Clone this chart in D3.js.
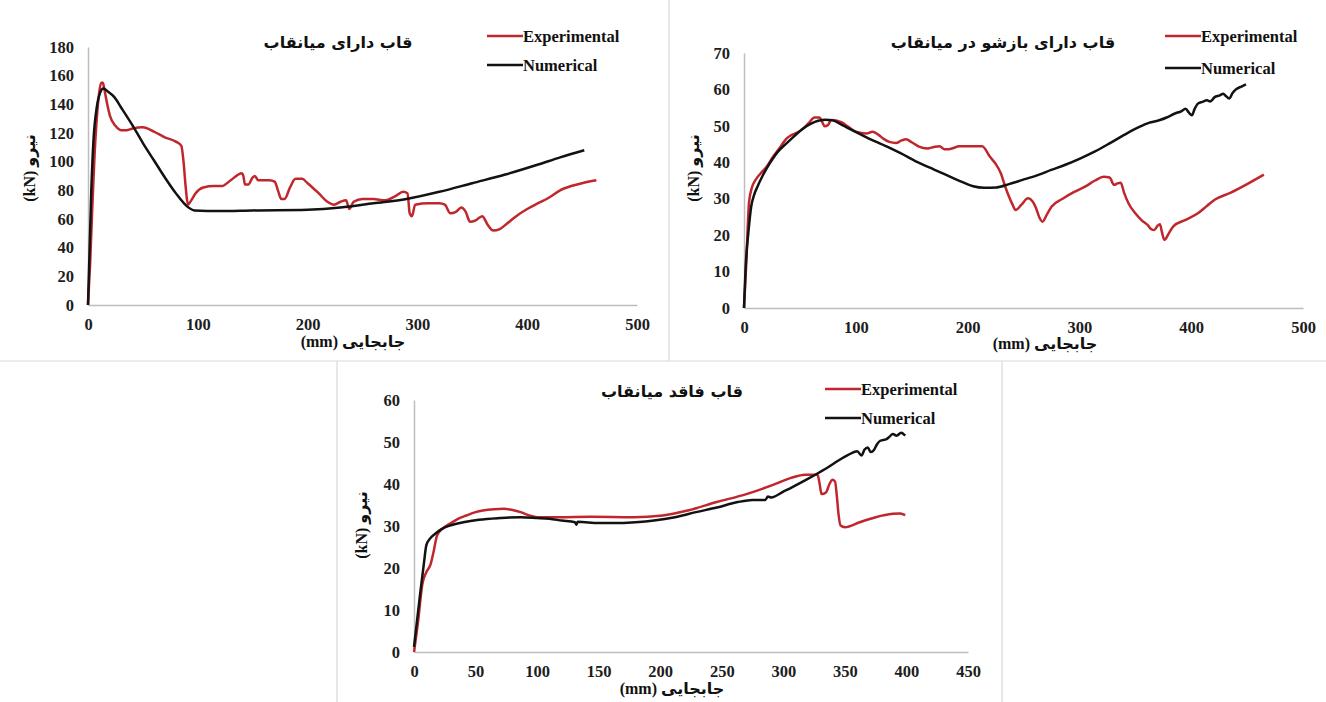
<!DOCTYPE html>
<html>
<head>
<meta charset="utf-8">
<script src="https://cdn.jsdelivr.net/npm/d3@7"></script>
<style>
  body { margin: 0; background: #fff; }
  svg { display: block; }
</style>
</head>
<body>
<div id="chart"></div>
<script>
// ---- data ----
const titles = ["قاب دارای میانقاب", "قاب دارای بازشو در میانقاب", "قاب فاقد میانقاب"];
const seriesNames = ["Experimental", "Numerical"];
const xLabel = "(mm) جابجایی";
const yLabel = "(kN) نیرو";

const xTicksTop = [0, 100, 200, 300, 400, 500];
const xTicksBottom = [0, 50, 100, 150, 200, 250, 300, 350, 400, 450];
const yTicksInfilled = [0, 20, 40, 60, 80, 100, 120, 140, 160, 180];
const yTicksOpening = [0, 10, 20, 30, 40, 50, 60, 70];
const yTicksBare = [0, 10, 20, 30, 40, 50, 60];

// frame with infill
const expInfilled = [[0,0],[2,30],[4,70],[6,105],[8,130],[10,147],[12,155],[13.5,155],[15,150],[17,142],[20,132],[25,125],[30,122],[35,122],[40,123],[50,124],[60,121],[70,117],[80,114],[85,111],[87,100],[89,82],[91,70],[94,73],[98,78],[105,82],[115,83],[122,83],[130,87],[140,92],[141.5,90],[143,84],[146,84],[150,89],[152,90],[155,87],[165,87],[170,86],[173,80],[176,74],[179,74],[184,82],[189,88],[195,88],[200,85],[210,78],[218,72],[224,70],[230,72],[235,73],[238,67],[242,72],[250,74],[260,74],[270,73],[280,76],[287,79],[291,78],[293,64],[295,62],[298,70],[310,71],[320,71],[325,70],[330,64],[335,65],[340,68],[344,65],[348,58],[353,59],[359,62],[364,56],[369,52],[375,53],[382,57],[390,62],[400,67],[410,71],[420,75],[430,80],[440,83],[450,85],[463,87]];
const numInfilled = [[0,0],[3,80],[5,115],[8,138],[11,148],[14,151],[18,149],[24,145],[30,138],[40,126],[50,113],[60,101],[70,89],[80,78],[90,69],[97,66],[120,65.5],[150,66],[200,66.5],[230,68],[260,71],[290,74],[320,79],[350,85],[380,91],[410,98],[430,103],[452,108]];

// frame with opening in infill
const expOpening = [[0,0],[2,12],[4.5,29],[7,33],[10,35],[15,37],[19.5,38.5],[26,41.5],[32.7,44.3],[38,46.5],[42,47.4],[48,48.2],[53,49.3],[58,50.8],[63,52.3],[67.6,52.3],[70,51],[72,49.9],[75,50.2],[78,51.6],[87,51],[93,49.8],[100,48.4],[109.6,47.9],[115,48.4],[120,47.6],[124.6,46.5],[130,45.6],[135.9,45.3],[141,46],[145,46.3],[150,45.5],[156.5,44.3],[164,43.8],[170,44.2],[175,44.4],[179,43.6],[183,43.6],[188,44],[192,44.4],[200,44.4],[213,44.4],[220,41.5],[225,39.6],[229.7,37],[234,33],[237,30.6],[240,28.5],[243,26.9],[248,28.3],[254,30.1],[258,29.3],[261,27.6],[264,25],[267,23.7],[271,25.7],[275,27.8],[285,30],[295,31.8],[305,33.3],[314,35],[321.7,36],[327,35.8],[331,33.8],[334,34.2],[337,34.4],[340,31.6],[344,28.7],[350,26],[356,24],[361,22.8],[364,21.7],[367,21.4],[370,22.6],[372,23],[374,20.6],[376,18.7],[380,20.5],[384,22.4],[395,24.2],[406,26],[414,28],[421,29.7],[435,31.6],[450,34],[465,36.6]];
const numOpening = [[0,0],[1.5,11.4],[4,21],[6.4,27.8],[9,31],[12,33.3],[17,36.5],[23,39.7],[30,42.8],[38,45.2],[45,47.2],[53,49.3],[60,50.6],[66.4,51.4],[73,51.7],[79.6,51.5],[88,50.2],[98,48.6],[110,46.8],[128,44.3],[140,42.5],[154.7,40.1],[170,38],[184.7,36],[195,34.6],[205,33.4],[214.7,33],[226,33.1],[237,34],[248.5,35.1],[262,36.4],[274.8,37.9],[288,39.4],[301,41.1],[314,43],[327,45.2],[340,47.5],[353.6,49.7],[362,50.8],[372,51.6],[378,52.3],[385.5,53.4],[391,54],[395,54.7],[398,53.6],[400.6,52.9],[403,54.6],[406,56.1],[410,56.6],[414,57],[417,56.7],[421,57.9],[425,58.3],[428.7,58.8],[431,58.2],[434,57.5],[437,59],[440,60],[445,60.8],[449,61.4]];

// bare frame
const expBare = [[0,0],[3.4,7.5],[6.8,16.2],[10,19],[13.6,21],[16,24],[18.7,27.7],[23,29.3],[28.9,30.5],[35,31.6],[42.5,32.5],[50,33.3],[56,33.7],[65,34],[73,34.1],[80,33.8],[86.6,33.3],[93,32.6],[100,32.1],[117,32.1],[144,32.2],[178,32.1],[202,32.5],[222.5,33.7],[246,35.7],[270,37.6],[290,39.6],[305.7,41.4],[317.6,42.2],[327.8,42.2],[329.5,40],[331,37.6],[334.6,38],[337.5,40],[339.7,41],[342,40.6],[343.5,37],[344.8,32.9],[346.5,30.1],[350,29.7],[362,30.9],[375,32.1],[389,32.9],[395,33],[399,32.6]];
const numBare = [[0,1.2],[5,13.9],[8,21],[10,25.4],[13,27],[17,28.1],[22,29.2],[29,30.1],[40,30.9],[52.7,31.5],[70,31.9],[86.6,32.1],[100,31.9],[110,31.7],[120,31.3],[130.8,30.9],[131.8,30.3],[133,31],[150,30.7],[161,30.7],[180,30.9],[195,31.3],[212,32.1],[229,33.3],[246,34.4],[263,35.7],[275,36.2],[285.3,36.2],[287.5,37],[290,36.8],[300,38.2],[307,39.2],[318,40.9],[329.5,42.8],[337,44.1],[344.8,45.6],[352,46.8],[360,47.8],[363.5,46.8],[366,48.2],[368.5,48.7],[371,47.6],[373.6,48.1],[376,49.4],[378.7,50.3],[383.8,50.7],[386,51.2],[389,51.9],[392,51.5],[395.7,52.2],[399,51.5]];

// ---- drawing ----
const W = 1326, H = 702;
const RED = "#c0272d", BLACK = "#121212";
const TICKFONT = "'Liberation Serif', 'Times New Roman', serif";
const ARFONT = "'DejaVu Sans', 'Noto Sans', sans-serif";

const svg = d3.select("#chart").append("svg").attr("width", W).attr("height", H);

// panel separators
const sep = svg.append("g").attr("stroke", "#d9d9d9").attr("stroke-width", 1.2);
sep.append("line").attr("x1", 669).attr("x2", 669).attr("y1", 0).attr("y2", 361);
sep.append("line").attr("x1", 0).attr("x2", W).attr("y1", 361).attr("y2", 361);
sep.append("line").attr("x1", 337).attr("x2", 337).attr("y1", 361).attr("y2", H);
sep.append("line").attr("x1", 1002).attr("x2", 1002).attr("y1", 361).attr("y2", H);

const panels = [
  { x0: 88, x1: 637, y0: 305, y1: 47, xMax: 500, yMax: 180, xTicks: xTicksTop, yTicks: yTicksInfilled,
    title: titles[0], titleX: 338, titleY: 48, legX: 487, legY: 36, legGap: 29,
    yLabX: 29, yLabY: 168, xLabX: 353, xLabY: 347, exp: expInfilled, num: numInfilled },
  { x0: 744, x1: 1303, y0: 308, y1: 53, xMax: 500, yMax: 70, xTicks: xTicksTop, yTicks: yTicksOpening,
    title: titles[1], titleX: 1003, titleY: 48, legX: 1165, legY: 36, legGap: 32,
    yLabX: 693, yLabY: 168, xLabX: 1045, xLabY: 349, exp: expOpening, num: numOpening },
  { x0: 414, x1: 968, y0: 652, y1: 400, xMax: 450, yMax: 60, xTicks: xTicksBottom, yTicks: yTicksBare,
    title: titles[2], titleX: 672, titleY: 397, legX: 825, legY: 389, legGap: 29,
    yLabX: 361, yLabY: 525, xLabX: 672, xLabY: 694, exp: expBare, num: numBare }
];

panels.forEach(p => {
  const g = svg.append("g");
  const x = d3.scaleLinear().domain([0, p.xMax]).range([p.x0, p.x1]);
  const y = d3.scaleLinear().domain([0, p.yMax]).range([p.y0, p.y1]);

  // axes: plain grey lines, no ticks
  const xAxis = g.append("g").attr("transform", `translate(0,${p.y0})`)
    .call(d3.axisBottom(x).tickValues(p.xTicks).tickSize(0).tickPadding(13));
  const yAxis = g.append("g").attr("transform", `translate(${p.x0},0)`)
    .call(d3.axisLeft(y).tickValues(p.yTicks).tickSize(0).tickPadding(14));
  [xAxis, yAxis].forEach(a => {
    a.select(".domain").attr("stroke", "#bdbdbd").attr("stroke-width", 1.5);
    a.selectAll("text")
      .style("font-family", TICKFONT)
      .style("font-weight", "bold")
      .style("font-size", "16.5px")
      .attr("fill", "#1d1d1d");
  });

  const line = d3.line().x(d => x(d[0])).y(d => y(d[1])).curve(d3.curveMonotoneX);

  g.append("path").datum(p.exp).attr("d", line)
    .attr("fill", "none").attr("stroke", RED).attr("stroke-width", 2.5).attr("stroke-linejoin", "round");
  g.append("path").datum(p.num).attr("d", line)
    .attr("fill", "none").attr("stroke", BLACK).attr("stroke-width", 2.5).attr("stroke-linejoin", "round");

  // title
  g.append("text").attr("x", p.titleX).attr("y", p.titleY)
    .attr("text-anchor", "middle")
    .style("font-family", ARFONT).style("font-weight", "bold").style("font-size", "16px")
    .attr("fill", "#111").text(p.title);

  // legend
  [RED, BLACK].forEach((c, i) => {
    const ly = p.legY + i * p.legGap;
    g.append("line").attr("x1", p.legX).attr("x2", p.legX + 36).attr("y1", ly).attr("y2", ly)
      .attr("stroke", c).attr("stroke-width", 2.5);
    g.append("text").attr("x", p.legX + 36).attr("y", ly).attr("dy", "0.35em")
      .style("font-family", TICKFONT).style("font-weight", "bold").style("font-size", "16.5px")
      .attr("fill", "#111").text(seriesNames[i]);
  });

  // axis titles
  g.append("text").attr("transform", `translate(${p.yLabX},${p.yLabY}) rotate(-90)`)
    .attr("text-anchor", "middle").attr("dy", "0.35em")
    .style("font-family", TICKFONT + ", " + ARFONT).style("font-weight", "bold").style("font-size", "16px")
    .attr("fill", "#111").text(yLabel);
  g.append("text").attr("x", p.xLabX).attr("y", p.xLabY)
    .attr("text-anchor", "middle")
    .style("font-family", TICKFONT + ", " + ARFONT).style("font-weight", "bold").style("font-size", "16px")
    .attr("fill", "#111").text(xLabel);
});
</script>
</body>
</html>
